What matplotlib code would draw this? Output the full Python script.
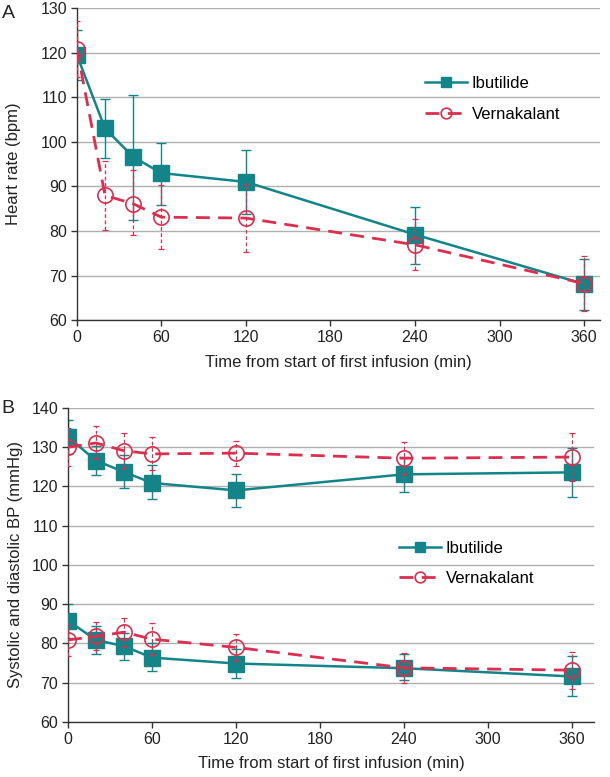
import numpy as np
import matplotlib
matplotlib.use("Agg")
import matplotlib.pyplot as plt

plt.rcParams["font.family"] = ["Liberation Sans", "DejaVu Sans"]

# time points (min)
time = [0, 20, 40, 60, 120, 240, 360]

# Panel A: heart rate (bpm)
hr_ibu = [119.5, 103.0, 96.6, 93.0, 91.0, 79.2, 68.1]
hr_ibu_hi = [125.1, 109.6, 110.6, 99.8, 98.2, 85.3, 73.8]
hr_ibu_lo = [113.9, 96.3, 82.5, 85.8, 83.8, 72.6, 62.2]
hr_ver = [120.9, 88.0, 86.1, 83.1, 82.9, 76.9, 68.2]
hr_ver_hi = [127.2, 95.6, 93.6, 90.3, 90.5, 82.6, 74.5]
hr_ver_lo = [114.5, 80.2, 79.0, 75.9, 75.2, 71.3, 62.0]

# Panel B: systolic BP (mmHg)
sbp_ibu = [132.6, 126.6, 123.7, 120.9, 119.0, 123.1, 123.6]
sbp_ibu_hi = [136.9, 130.2, 128.0, 125.5, 123.3, 127.5, 129.8]
sbp_ibu_lo = [128.3, 122.9, 119.5, 116.8, 114.7, 118.7, 117.4]
sbp_ver = [130.0, 131.1, 129.1, 128.3, 128.5, 127.2, 127.5]
sbp_ver_hi = [135.0, 135.3, 133.6, 132.5, 131.7, 131.3, 133.6]
sbp_ver_lo = [125.3, 127.0, 124.6, 124.3, 125.3, 123.0, 121.4]

# Panel B: diastolic BP (mmHg)
dbp_ibu = [85.8, 80.9, 79.3, 76.4, 74.9, 73.7, 71.6]
dbp_ibu_hi = [90.0, 84.5, 82.8, 80.0, 78.6, 77.4, 76.9]
dbp_ibu_lo = [81.5, 77.3, 75.9, 72.9, 71.2, 70.6, 66.7]
dbp_ver = [80.9, 81.8, 82.9, 81.1, 79.0, 73.8, 73.2]
dbp_ver_hi = [84.8, 85.4, 86.6, 85.2, 82.4, 77.6, 77.8]
dbp_ver_lo = [76.9, 78.3, 79.2, 77.0, 75.6, 70.0, 68.5]

TEAL = "#138488"
RED = "#dc2e4e"
TXT = "#222222"


def draw_ibu(ax, y, hi, lo):
    y = np.array(y)
    err = [y - np.array(lo), np.array(hi) - y]
    ax.errorbar(time, y, yerr=err, fmt="none", ecolor=TEAL, elinewidth=1.0,
                capsize=3.5, capthick=1.0, zorder=2)
    line, = ax.plot(time, y, color=TEAL, lw=1.8, marker="s", ms=11,
                    mfc=TEAL, mec=TEAL, zorder=3, label="Ibutilide")
    return line


def draw_ver(ax, y, hi, lo):
    y = np.array(y)
    err = [y - np.array(lo), np.array(hi) - y]
    eb = ax.errorbar(time, y, yerr=err, fmt="none", ecolor=RED, elinewidth=0.9,
                     capsize=2.5, capthick=0.9, zorder=4)
    for lc in eb[2]:
        lc.set_linestyle((0, (3, 2)))
    line, = ax.plot(time, y, color=RED, lw=2.0, ls=(0, (5, 3)), marker="o",
                    ms=11, mfc="none", mec=RED, mew=1.2, zorder=5,
                    label="Vernakalant")
    return line


def style_axes(ax, xmax, ylim, yticks):
    ax.set_xlim(0, xmax)
    ax.set_ylim(*ylim)
    ax.set_xticks([0, 60, 120, 180, 240, 300, 360])
    ax.set_yticks(yticks)
    ax.grid(axis="y", color="#b0b0b0", lw=1.0)
    ax.set_axisbelow(True)
    for s in ["top", "right"]:
        ax.spines[s].set_visible(False)
    for s in ["left", "bottom"]:
        ax.spines[s].set_color("#333333")
        ax.spines[s].set_linewidth(1.0)
    ax.tick_params(axis="both", direction="out", length=4, width=1.0,
                   color="#333333", labelsize=11.5, labelcolor=TXT, pad=3)
    ax.set_xlabel("Time from start of first infusion (min)", fontsize=12,
                  color=TXT, labelpad=7)


fig = plt.figure(figsize=(6.1, 7.77), dpi=100)

# Panel A
axA = fig.add_axes([0.126, 0.588, 0.857, 0.4015])
l1 = draw_ibu(axA, hr_ibu, hr_ibu_hi, hr_ibu_lo)
l2 = draw_ver(axA, hr_ver, hr_ver_hi, hr_ver_lo)
style_axes(axA, 371, (60, 130), range(60, 131, 10))
axA.set_ylabel("Heart rate (bpm)", fontsize=12, color=TXT, labelpad=14)
axA.legend(handles=[l1, l2], loc="upper left", bbox_to_anchor=(0.637, 0.83),
           frameon=False, fontsize=12, handlelength=2.5, labelspacing=0.95,
           handletextpad=0.3, markerscale=0.7)
fig.text(0.003, 0.993, "A", fontsize=14, va="top", color=TXT)

# Panel B
axB = fig.add_axes([0.1115, 0.0708, 0.863, 0.4041])
draw_ibu(axB, sbp_ibu, sbp_ibu_hi, sbp_ibu_lo)
draw_ver(axB, sbp_ver, sbp_ver_hi, sbp_ver_lo)
l1 = draw_ibu(axB, dbp_ibu, dbp_ibu_hi, dbp_ibu_lo)
l2 = draw_ver(axB, dbp_ver, dbp_ver_hi, dbp_ver_lo)
style_axes(axB, 376, (60, 140), range(60, 141, 10))
axB.set_ylabel("Systolic and diastolic BP (mmHg)", fontsize=12,
               color=TXT, labelpad=6)
axB.legend(handles=[l1, l2], loc="upper left", bbox_to_anchor=(0.6, 0.625),
           frameon=False, fontsize=12, handlelength=2.5, labelspacing=0.92,
           handletextpad=0.3, markerscale=0.7)
fig.text(0.003, 0.485, "B", fontsize=14, va="top", color=TXT)

fig.savefig("out.png", dpi=100)
